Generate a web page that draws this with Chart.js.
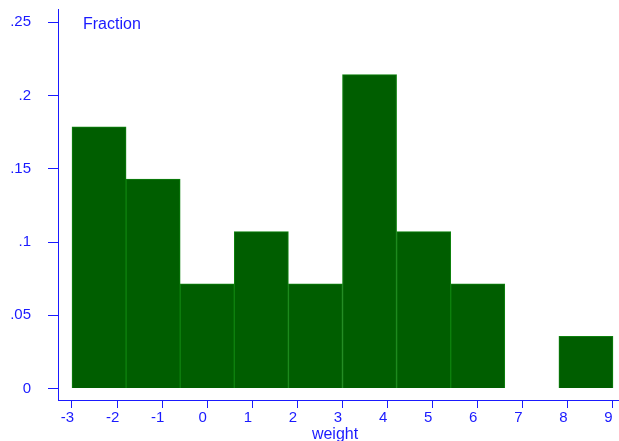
<!DOCTYPE html>
<html>
<head>
<meta charset="utf-8">
<style>
  html, body { margin: 0; padding: 0; background: #ffffff; }
  #wrap { width: 619px; height: 441px; }
</style>
<script src="https://cdn.jsdelivr.net/npm/chart.js@4.4.0/dist/chart.umd.min.js"></script>
</head>
<body>
<div id="wrap"><canvas id="c" width="619" height="441"></canvas></div>
<script>
// Bin edges (bin width 1.2, from -3 to 9) and centres
const binEdges = [-3, -1.8, -0.6, 0.6, 1.8, 3, 4.2, 5.4, 6.6, 7.8, 9];
const binCenters = [-2.4, -1.2, 0, 1.2, 2.4, 3.6, 4.8, 6.0, 7.2, 8.4];
// Fraction of observations in each bin
const fractions = [0.1786, 0.1429, 0.0714, 0.1071, 0.0714, 0.2143, 0.1071, 0.0714, 0, 0.0357];
// Tick values and labels
const xTickValues = [-3, -2, -1, 0, 1, 2, 3, 4, 5, 6, 7, 8, 9];
const xTickLabels = ['-3', '-2', '-1', '0', '1', '2', '3', '4', '5', '6', '7', '8', '9'];
const yTickValues = [0, 0.05, 0.1, 0.15, 0.2, 0.25];
const yTickLabels = ['0', '.05', '.1', '.15', '.2', '.25'];
const yTitle = 'Fraction';
const xTitle = 'weight';

const BLUE = '#1a1aff';
const FONT = "'Liberation Sans', Arial, Helvetica, sans-serif";
const X_MIN = -3.3105, X_MAX = 9.1331;

const axisTitles = {
  id: 'axisTitles',
  afterDraw(chart) {
    const ctx = chart.ctx;
    ctx.save();
    ctx.fillStyle = BLUE;
    ctx.font = '16px ' + FONT;
    ctx.textBaseline = 'alphabetic';
    ctx.textAlign = 'left';
    ctx.fillText(yTitle, 83, 29);
    ctx.textAlign = 'center';
    ctx.fillText(xTitle, 335, 439);
    ctx.restore();
  }
};

new Chart(document.getElementById('c'), {
  type: 'bar',
  data: {
    datasets: [{
      data: binCenters.map((x, i) => ({ x: x, y: fractions[i] })),
      xAxisID: 'x',
      yAxisID: 'y',
      backgroundColor: '#005e00',
      borderColor: '#0e820e',
      borderWidth: 1,
      barPercentage: 1,
      categoryPercentage: 1
    }]
  },
  options: {
    responsive: false,
    devicePixelRatio: 1,
    animation: false,
    layout: { padding: { top: 9, right: 0, bottom: 0, left: 0 } },
    plugins: { legend: { display: false }, tooltip: { enabled: false }, title: { display: false } },
    scales: {
      x: {
        type: 'linear',
        display: false,
        offset: false,
        min: X_MIN,
        max: X_MAX,
        afterBuildTicks(s) { s.ticks = binEdges.map(v => ({ value: v })); },
        grid: { offset: false }
      },
      xAxis: {
        type: 'linear',
        position: 'bottom',
        offset: false,
        min: X_MIN,
        max: X_MAX,
        afterFit(s) { s.height = 41; s.paddingLeft = 0; s.paddingRight = 0; },
        afterBuildTicks(s) { s.ticks = xTickValues.map(v => ({ value: v })); },
        grid: { display: true, offset: false, drawOnChartArea: false, drawTicks: true, tickLength: 8, color: BLUE, lineWidth: 1 },
        border: { display: true, color: BLUE, width: 1 },
        ticks: {
          color: BLUE,
          font: { family: FONT, size: 15 },
          padding: 1,
          labelOffset: -4.5,
          maxRotation: 0,
          autoSkip: false,
          callback(v, i) { return xTickLabels[i]; }
        },
        title: { display: false }
      },
      y: {
        type: 'linear',
        min: -0.00785,
        max: 0.25908,
        afterFit(s) { s.width = 58; s.paddingTop = 0; s.paddingBottom = 0; },
        afterBuildTicks(s) { s.ticks = yTickValues.map(v => ({ value: v })); },
        grid: { display: true, drawOnChartArea: false, drawTicks: true, tickLength: 10, color: BLUE, lineWidth: 1 },
        border: { display: true, color: BLUE, width: 1 },
        ticks: {
          color: BLUE,
          font: { family: FONT, size: 15 },
          padding: 17,
          autoSkip: false,
          callback(v, i) { return yTickLabels[i]; }
        }
      }
    }
  },
  plugins: [axisTitles]
});
</script>
</body>
</html>
